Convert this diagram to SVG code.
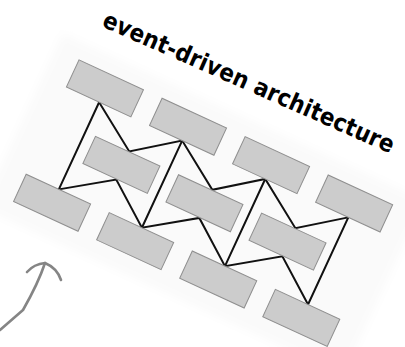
<svg xmlns="http://www.w3.org/2000/svg" width="405" height="347" viewBox="0 0 405 347">
  <defs>
    <filter id="soft" x="-10%" y="-10%" width="120%" height="120%">
      <feGaussianBlur stdDeviation="5"/>
    </filter>
    <style>
      .box { fill: #cccccc; stroke: #8f8f8f; stroke-width: 1; }
      .wire { fill: none; stroke: #111111; stroke-width: 2; stroke-linejoin: miter; stroke-linecap: round; }
      .title { font-family: "DejaVu Sans", "Liberation Sans", sans-serif; font-stretch: condensed; font-weight: bold; font-size: 24px; fill: #000000; }
      .pointer { fill: none; stroke: #858585; stroke-width: 2.6; stroke-linecap: round; stroke-linejoin: round; }
    </style>
  </defs>

  <rect width="405" height="347" fill="#ffffff"/>

  <!-- title -->
  <text class="title" x="0" y="0" transform="translate(101,26) rotate(23.8)" textLength="316" lengthAdjust="spacing">event-driven architecture</text>

  <!-- everything below sits in a frame tilted along the rows -->
  <g transform="translate(105.4,88.6) rotate(24.8)">
    <!-- faint backing panel -->
    <rect x="-62" y="-32" width="398" height="192" fill="#fafafa" filter="url(#soft)"/>

    <g id="connectors">
      <polyline class="wire" points="0,15 48,47 91.5,15 139.5,47 183,15 231,47 274.5,15"/>
      <polyline class="wire" points="0,111 48,78 91.5,111 139.5,78 183,111 231,78 274.5,111"/>
      <line class="wire" x1="0" y1="15" x2="0" y2="111"/>
      <line class="wire" x1="91.5" y1="15" x2="91.5" y2="111"/>
      <line class="wire" x1="183" y1="15" x2="183" y2="111"/>
      <line class="wire" x1="274.5" y1="15" x2="274.5" y2="111"/>
    </g>

    <!-- top row -->
    <g id="top1"><rect class="box" x="-36" y="-15" width="71" height="30"/></g>
    <g id="top2"><rect class="box" x="55.5" y="-15" width="71" height="30"/></g>
    <g id="top3"><rect class="box" x="147" y="-15" width="71" height="30"/></g>
    <g id="top4"><rect class="box" x="238.5" y="-15" width="71" height="30"/></g>

    <!-- middle row -->
    <g id="mid1"><rect class="box" x="11" y="47.5" width="71" height="30"/></g>
    <g id="mid2"><rect class="box" x="102.5" y="47.5" width="71" height="30"/></g>
    <g id="mid3"><rect class="box" x="194" y="47.5" width="71" height="30"/></g>

    <!-- bottom row -->
    <g id="bot1"><rect class="box" x="-36" y="111" width="71" height="30"/></g>
    <g id="bot2"><rect class="box" x="55.5" y="111" width="71" height="30"/></g>
    <g id="bot3"><rect class="box" x="147" y="111" width="71" height="30"/></g>
    <g id="bot4"><rect class="box" x="238.5" y="111" width="71" height="30"/></g>
  </g>

  <!-- hand-drawn pointer -->
  <g id="pointer">
    <path class="pointer" d="M0,330 L23,310 C31,296 39,281 45,263"/>
    <path class="pointer" d="M27,272 Q34,264 45,263 Q57,268 61,280"/>
  </g>
</svg>
